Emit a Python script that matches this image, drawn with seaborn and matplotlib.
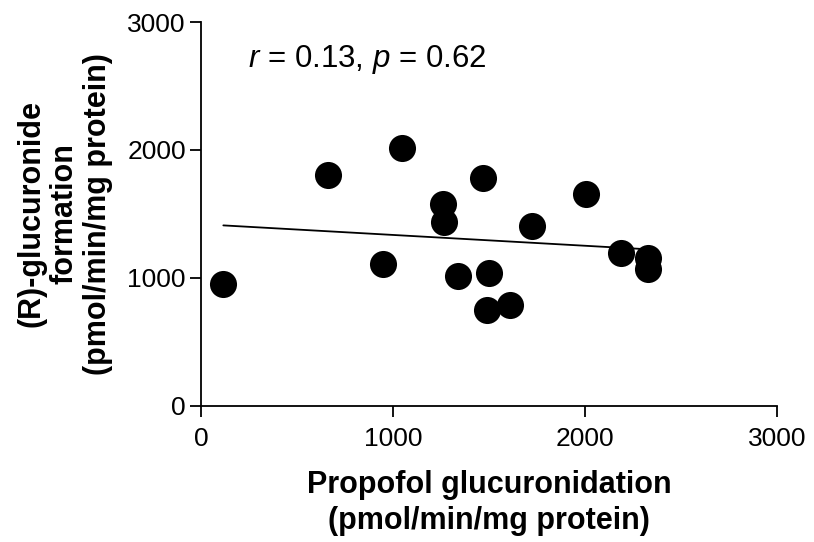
import pandas as pd
import matplotlib
matplotlib.use("Agg")
import matplotlib.pyplot as plt
import seaborn as sns

# propofol glucuronidation vs (R)-glucuronide formation, pmol/min/mg protein
propofol = [116, 661, 1047, 946, 1259, 1266, 1467, 1337, 1498, 1488, 1608, 1726, 2005, 2187, 2326, 2326]
r_gluc = [951, 1807, 2018, 1109, 1576, 1440, 1779, 1016, 1042, 750, 791, 1406, 1659, 1198, 1154, 1070]
ticks = [0, 1000, 2000, 3000]

df = pd.DataFrame({"propofol": propofol, "r_gluc": r_gluc})

sns.set_style("ticks")
plt.rcParams["font.family"] = ["Liberation Sans", "DejaVu Sans"]
plt.rcParams["mathtext.fontset"] = "custom"
plt.rcParams["mathtext.rm"] = "Liberation Sans"
plt.rcParams["mathtext.it"] = "Liberation Sans:italic"
plt.rcParams["text.color"] = "black"
plt.rcParams["axes.labelcolor"] = "black"

fig = plt.figure(figsize=(8.14, 5.42), dpi=100)
ax = fig.add_axes([0.247, 0.251, 0.7075, 0.7084])

sns.regplot(data=df, x="propofol", y="r_gluc", ci=None, ax=ax, truncate=True,
            scatter_kws={"s": 380, "color": "black", "alpha": 1, "linewidths": 0, "zorder": 3},
            line_kws={"color": "black", "lw": 1.3, "zorder": 2})

ax.set_xlim(0, 3000)
ax.set_ylim(0, 3000)
ax.set_xticks(ticks)
ax.set_yticks(ticks)
ax.tick_params(labelsize=19, length=8, width=1.3, color="black", labelcolor="black")
ax.tick_params(axis="x", pad=7)
ax.tick_params(axis="y", pad=3)
for s in ["left", "bottom"]:
    ax.spines[s].set_linewidth(1.3)
    ax.spines[s].set_color("black")
sns.despine(ax=ax)

ax.set_xlabel("Propofol glucuronidation\n(pmol/min/mg protein)", fontsize=22,
              fontweight="bold", labelpad=14, linespacing=1.25)
ax.set_ylabel("(R)-glucuronide\nformation\n(pmol/min/mg protein)", fontsize=22,
              fontweight="bold", labelpad=10, linespacing=1.15)
ax.text(245, 2650, "$r$ = 0.13, $p$ = 0.62", fontsize=22.5, va="baseline")

fig.savefig("out.png", dpi=100)
